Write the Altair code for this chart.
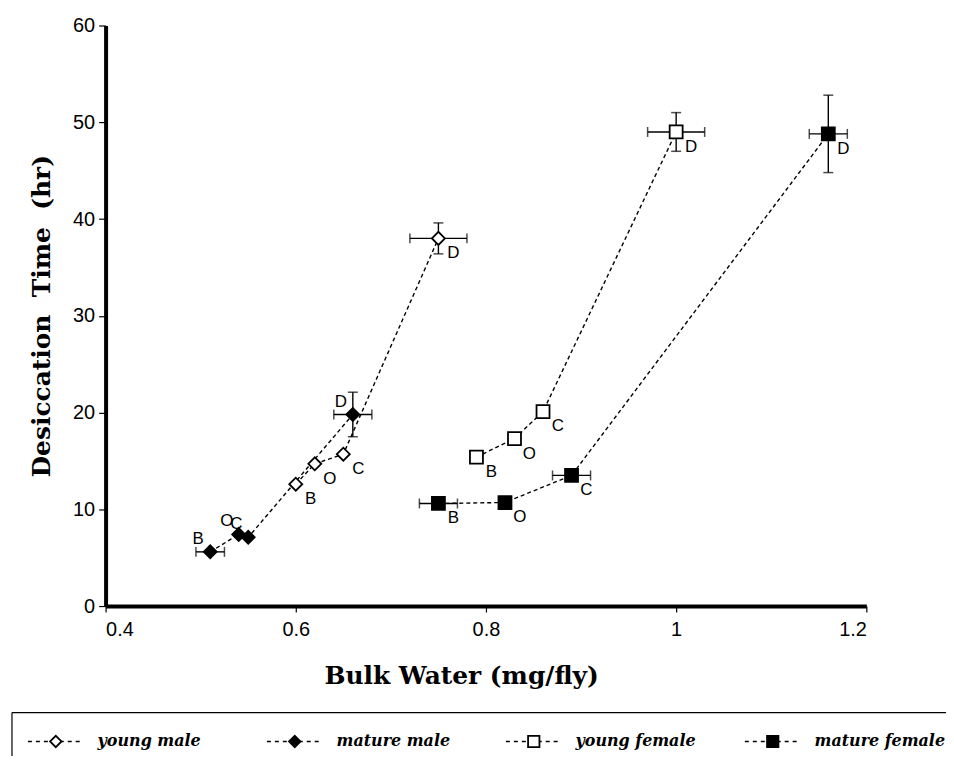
import altair as alt
import pandas as pd

# ---------------- data ----------------
groups = ["young male", "mature male", "young female", "mature female"]
stages = ["B", "O", "C", "D"]

ym_x = [0.60, 0.62, 0.65, 0.75]
ym_y = [12.6, 14.7, 15.7, 38.0]
mm_x = [0.51, 0.54, 0.55, 0.66]
mm_y = [5.6, 7.4, 7.1, 19.8]
yf_x = [0.79, 0.83, 0.86, 1.00]
yf_y = [15.4, 17.3, 20.1, 49.0]
mf_x = [0.75, 0.82, 0.89, 1.16]
mf_y = [10.6, 10.7, 13.5, 48.8]

ym_xerr = [0, 0, 0, 0.03]
ym_yerr = [0, 0, 0, 1.6]
mm_xerr = [0.015, 0, 0, 0.02]
mm_yerr = [0, 0, 0, 2.3]
yf_xerr = [0, 0, 0, 0.03]
yf_yerr = [0, 0, 0, 2.0]
mf_xerr = [0.02, 0, 0.02, 0.02]
mf_yerr = [0, 0, 0, 4.0]

x_ticks = [0.4, 0.6, 0.8, 1.0, 1.2]
y_ticks = [0, 10, 20, 30, 40, 50, 60]

# ---------------- table ----------------
rows = []
series = [
    (groups[0], ym_x, ym_y, ym_xerr, ym_yerr),
    (groups[1], mm_x, mm_y, mm_xerr, mm_yerr),
    (groups[2], yf_x, yf_y, yf_xerr, yf_yerr),
    (groups[3], mf_x, mf_y, mf_xerr, mf_yerr),
]
for g, xs, ys, xe, ye in series:
    for i, s in enumerate(stages):
        rows.append(dict(group=g, stage=s, order=i, x=xs[i], y=ys[i],
                         xerr=xe[i], yerr=ye[i],
                         xlo=xs[i] - xe[i], xhi=xs[i] + xe[i],
                         ylo=ys[i] - ye[i], yhi=ys[i] + ye[i]))
df = pd.DataFrame(rows)
df_ex = df[df.xerr > 0]
df_ey = df[df.yerr > 0]

leg_df = pd.DataFrame({"group": groups, "idx": list(range(len(groups)))})

# ---------------- scales ----------------
xs_ = alt.Scale(domain=[0.4, 1.2], nice=False, zero=False)
ys_ = alt.Scale(domain=[0, 60], nice=False, zero=False)
shape_s = alt.Scale(domain=groups, range=["diamond", "diamond", "square", "square"])
fill_s = alt.Scale(domain=groups, range=["white", "black", "white", "black"])

X = alt.X("x:Q", scale=xs_, axis=alt.Axis(
    values=x_ticks, format="~g", labelPadding=8,
    title="Bulk Water (mg/fly)", titlePadding=24,
    titleX=357, titleAlign="center"))
Y = alt.Y("y:Q", scale=ys_, axis=alt.Axis(
    values=y_ticks, labelPadding=4, tickSize=7,
    title="Desiccation\u00a0\u00a0Time\u00a0\u00a0(hr)", titlePadding=18))

base = alt.Chart(df)

lines = base.mark_line(color="black", strokeDash=[4, 3], strokeWidth=1.4).encode(
    x=X, y=Y, detail="group:N", order="order:Q")

ex_rule = alt.Chart(df_ex).mark_rule(color="black", strokeWidth=1.4).encode(
    x=alt.X("xlo:Q", scale=xs_), x2="xhi:Q", y=alt.Y("y:Q", scale=ys_))
ex_capl = alt.Chart(df_ex).mark_tick(orient="vertical", color="black", size=10, thickness=1.5).encode(
    x=alt.X("xlo:Q", scale=xs_), y=alt.Y("y:Q", scale=ys_))
ex_capr = alt.Chart(df_ex).mark_tick(orient="vertical", color="black", size=10, thickness=1.5).encode(
    x=alt.X("xhi:Q", scale=xs_), y=alt.Y("y:Q", scale=ys_))

ey_rule = alt.Chart(df_ey).mark_rule(color="black", strokeWidth=1.4).encode(
    x=alt.X("x:Q", scale=xs_), y=alt.Y("ylo:Q", scale=ys_), y2="yhi:Q")
ey_capb = alt.Chart(df_ey).mark_tick(orient="horizontal", color="black", size=10, thickness=1.5).encode(
    x=alt.X("x:Q", scale=xs_), y=alt.Y("ylo:Q", scale=ys_))
ey_capt = alt.Chart(df_ey).mark_tick(orient="horizontal", color="black", size=10, thickness=1.5).encode(
    x=alt.X("x:Q", scale=xs_), y=alt.Y("yhi:Q", scale=ys_))

points = base.mark_point(filled=True, stroke="black", strokeWidth=1.8, opacity=1, size=170).encode(
    x=alt.X("x:Q", scale=xs_), y=alt.Y("y:Q", scale=ys_),
    shape=alt.Shape("group:N", scale=shape_s, legend=None),
    fill=alt.Fill("group:N", scale=fill_s, legend=None))

lab_br = base.transform_filter(alt.datum.group != "mature male").mark_text(
    font="Liberation Sans", fontSize=17, color="black", dx=15, dy=15).encode(
    x=alt.X("x:Q", scale=xs_), y=alt.Y("y:Q", scale=ys_), text="stage:N")
lab_tl = base.transform_filter(alt.datum.group == "mature male").mark_text(
    font="Liberation Sans", fontSize=17, color="black", dx=-12, dy=-13).encode(
    x=alt.X("x:Q", scale=xs_), y=alt.Y("y:Q", scale=ys_), text="stage:N")

main = alt.layer(lines, ex_rule, ex_capl, ex_capr, ey_rule, ey_capb, ey_capt,
                 points, lab_br, lab_tl)

# ---------------- legend (box along the bottom) ----------------
leg_scale = alt.Scale(domain=[0, 3], range=[-50, 670])
LX = alt.X("idx:Q", scale=leg_scale, axis=None)
LEG_Y = 719
legb = alt.Chart(leg_df)
leg_dash = legb.mark_rule(color="black", strokeDash=[4, 4], strokeWidth=1.4,
                          xOffset=-28, x2Offset=28).encode(
    x=LX, x2="idx:Q", y=alt.value(LEG_Y))
leg_pts = legb.mark_point(filled=True, stroke="black", strokeWidth=1.8, opacity=1, size=130).encode(
    x=LX, y=alt.value(LEG_Y),
    shape=alt.Shape("group:N", scale=shape_s, legend=None),
    fill=alt.Fill("group:N", scale=fill_s, legend=None))
leg_txt = legb.mark_text(align="left", baseline="middle", dx=42, font="DejaVu Serif",
                         fontSize=16, fontStyle="italic", fontWeight="bold", color="black").encode(
    x=LX, y=alt.value(LEG_Y), text="group:N")
box_top = alt.Chart(leg_df.head(1)).mark_rule(color="black", strokeWidth=1.2).encode(
    x=alt.value(-94), x2=alt.value(900), y=alt.value(690))
box_left = alt.Chart(leg_df.head(1)).mark_rule(color="black", strokeWidth=1.2).encode(
    x=alt.value(-94), y=alt.value(690), y2=alt.value(800))

legend = alt.layer(leg_dash, leg_pts, leg_txt, box_top, box_left)

chart = alt.layer(main, legend).resolve_scale(x="independent").properties(
    width=764, height=583,
    autosize=alt.AutoSizeParams(type="none"),
    padding={"left": 98, "top": 16, "right": 80, "bottom": 149},
    background="white",
).configure_view(stroke=None).configure_axis(
    grid=False,
    domainWidth=4, domainColor="black", tickColor="black", tickSize=6, tickWidth=1.2,
    labelFont="Liberation Sans", labelFontSize=20, labelColor="black",
    titleFont="DejaVu Serif", titleFontSize=25, titleFontWeight="bold", titleColor="black",
)

chart.save("out.html", embed_options={"renderer": "svg", "actions": False})
